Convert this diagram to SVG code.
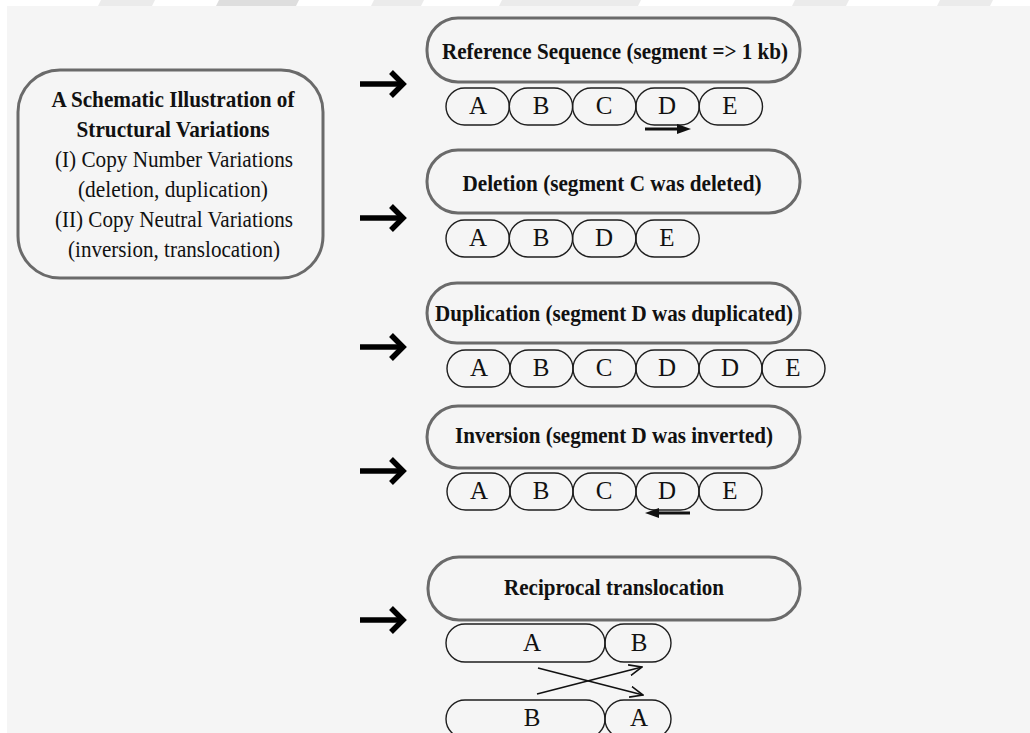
<svg xmlns="http://www.w3.org/2000/svg" xmlns:xlink="http://www.w3.org/1999/xlink" width="1030" height="733" viewBox="0 0 1030 733">
<style>
.bg{fill:#f5f5f5}
.wm{fill:#ebebeb}
.box{fill:none;stroke:#6a6a6a;stroke-width:3}
.seg{fill:none;stroke:#1e1e1e;stroke-width:1.4}
.title{font-family:"Liberation Serif","Times New Roman",serif;font-weight:bold;font-size:23px;fill:#111;text-anchor:middle}
.body{font-family:"Liberation Serif","Times New Roman",serif;font-size:23px;fill:#111;text-anchor:middle}
.lbl{font-family:"Liberation Serif","Times New Roman",serif;font-size:25px;fill:#111;text-anchor:middle}
.big{fill:none;stroke:#000;stroke-width:5.5;stroke-linecap:butt;stroke-linejoin:miter}
.thin{fill:none;stroke:#111;stroke-width:1.6}
.dir{fill:none;stroke:#111;stroke-width:3}
</style>
<defs>
<g id="bigarrow">
<path class="big" d="M360,0 H401"/>
<path class="big" d="M391,-12 L403,0 L391,12"/>
</g>
<marker id="open" viewBox="0 0 14 12" refX="13" refY="6" markerWidth="14" markerHeight="12" markerUnits="userSpaceOnUse" orient="auto">
<path d="M0,0.5 L13,6 L0,11.5" fill="none" stroke="#111" stroke-width="1.6"/>
</marker>
</defs>
<rect x="0" y="0" width="1030" height="733" fill="#ffffff"/>
<rect class="bg" x="7" y="6" width="1023" height="727"/>
<g id="watermark">
<polygon points="101,0 155,0 152,6 98,6" class="wm"/>
<polygon points="219,0 299,0 296,6 216,6" fill="#dedede"/>
<polygon points="374,0 424,0 421,6 371,6" class="wm"/>
<polygon points="502,0 641,0 638,6 499,6" class="wm"/>
<polygon points="795,0 849,0 846,6 792,6" class="wm"/>
<polygon points="940,0 993,0 990,6 937,6" class="wm"/>
</g>

<g id="summary">
<rect class="box" x="18" y="70" width="305" height="208" rx="42" ry="42"/>
<text class="title" x="173" y="107" textLength="243" lengthAdjust="spacingAndGlyphs">A Schematic Illustration of</text>
<text class="title" x="173" y="137" textLength="193" lengthAdjust="spacingAndGlyphs">Structural Variations</text>
<text class="body" x="174" y="167" textLength="238" lengthAdjust="spacingAndGlyphs">(I) Copy Number Variations</text>
<text class="body" x="173" y="197" textLength="190" lengthAdjust="spacingAndGlyphs">(deletion, duplication)</text>
<text class="body" x="174" y="227" textLength="238" lengthAdjust="spacingAndGlyphs">(II) Copy Neutral Variations</text>
<text class="body" x="174" y="257" textLength="212" lengthAdjust="spacingAndGlyphs">(inversion, translocation)</text>
</g>

<g id="reference">
<rect class="box" x="427" y="18" width="373" height="64" rx="31" ry="31"/>
<text class="title" x="615" y="59" textLength="346" lengthAdjust="spacingAndGlyphs">Reference Sequence (segment =&gt; 1 kb)</text>
<rect class="seg" x="446" y="88" width="63.3" height="37" rx="18.5"/>
<rect class="seg" x="509.3" y="88" width="63.3" height="37" rx="18.5"/>
<rect class="seg" x="572.6" y="88" width="63.3" height="37" rx="18.5"/>
<rect class="seg" x="635.9" y="88" width="63.3" height="37" rx="18.5"/>
<rect class="seg" x="699.2" y="88" width="63.3" height="37" rx="18.5"/>
<text class="lbl" x="478" y="114">A</text>
<text class="lbl" x="541" y="114">B</text>
<text class="lbl" x="604" y="114">C</text>
<text class="lbl" x="667" y="114">D</text>
<text class="lbl" x="730" y="114">E</text>
</g>

<g id="deletion">
<rect class="box" x="427" y="150" width="373" height="63" rx="31" ry="31"/>
<text class="title" x="612" y="191" textLength="299" lengthAdjust="spacingAndGlyphs">Deletion (segment C was deleted)</text>
<rect class="seg" x="446" y="220" width="63.3" height="37" rx="18.5"/>
<rect class="seg" x="509.3" y="220" width="63.3" height="37" rx="18.5"/>
<rect class="seg" x="572.6" y="220" width="63.3" height="37" rx="18.5"/>
<rect class="seg" x="635.9" y="220" width="63.3" height="37" rx="18.5"/>
<text class="lbl" x="478" y="246">A</text>
<text class="lbl" x="541" y="246">B</text>
<text class="lbl" x="604" y="246">D</text>
<text class="lbl" x="667" y="246">E</text>
</g>

<g id="duplication">
<rect class="box" x="427" y="283" width="373" height="60" rx="30" ry="30"/>
<text class="title" x="614" y="321" textLength="358" lengthAdjust="spacingAndGlyphs">Duplication (segment D was duplicated)</text>
<rect class="seg" x="447" y="350" width="63" height="37" rx="18.5"/>
<rect class="seg" x="510" y="350" width="63" height="37" rx="18.5"/>
<rect class="seg" x="573" y="350" width="63" height="37" rx="18.5"/>
<rect class="seg" x="636" y="350" width="63" height="37" rx="18.5"/>
<rect class="seg" x="699" y="350" width="63" height="37" rx="18.5"/>
<rect class="seg" x="762" y="350" width="63" height="37" rx="18.5"/>
<text class="lbl" x="479" y="376">A</text>
<text class="lbl" x="541" y="376">B</text>
<text class="lbl" x="604" y="376">C</text>
<text class="lbl" x="667" y="376">D</text>
<text class="lbl" x="730" y="376">D</text>
<text class="lbl" x="793" y="376">E</text>
</g>

<g id="inversion">
<rect class="box" x="427" y="406" width="373" height="62" rx="31" ry="31"/>
<text class="title" x="614" y="443" textLength="318" lengthAdjust="spacingAndGlyphs">Inversion (segment D was inverted)</text>
<rect class="seg" x="447" y="473" width="63" height="37" rx="18.5"/>
<rect class="seg" x="510" y="473" width="63" height="37" rx="18.5"/>
<rect class="seg" x="573" y="473" width="63" height="37" rx="18.5"/>
<rect class="seg" x="636" y="473" width="63" height="37" rx="18.5"/>
<rect class="seg" x="699" y="473" width="63" height="37" rx="18.5"/>
<text class="lbl" x="479" y="499">A</text>
<text class="lbl" x="541" y="499">B</text>
<text class="lbl" x="604" y="499">C</text>
<text class="lbl" x="667" y="499">D</text>
<text class="lbl" x="730" y="499">E</text>
</g>

<g id="translocation">
<rect class="box" x="428" y="557" width="372" height="63" rx="31" ry="31"/>
<text class="title" x="614" y="595" textLength="220" lengthAdjust="spacingAndGlyphs">Reciprocal translocation</text>
<rect class="seg" x="446" y="624" width="159" height="38" rx="19"/>
<rect class="seg" x="605" y="624" width="66" height="38" rx="19"/>
<text class="lbl" x="532" y="651">A</text>
<text class="lbl" x="639" y="651">B</text>
<rect class="seg" x="446" y="700" width="159" height="38" rx="19"/>
<rect class="seg" x="605" y="700" width="66" height="38" rx="19"/>
<text class="lbl" x="532" y="726">B</text>
<text class="lbl" x="639" y="726">A</text>
</g>

<g id="connectors">
<use xlink:href="#bigarrow" transform="translate(0,84)"/>
<use xlink:href="#bigarrow" transform="translate(0,218)"/>
<use xlink:href="#bigarrow" transform="translate(0,347)"/>
<use xlink:href="#bigarrow" transform="translate(0,471)"/>
<use xlink:href="#bigarrow" transform="translate(0,620)"/>
<path class="dir" d="M645,129 H684"/>
<polygon points="677,124 691,129 677,134" fill="#111"/>
<path class="dir" d="M690,513 H652"/>
<polygon points="659,508 645,513 659,518" fill="#111"/>
<path class="thin" d="M538,668 L643,695" marker-end="url(#open)"/>
<path class="thin" d="M537,694 L642,667" marker-end="url(#open)"/>
</g>
</svg>
